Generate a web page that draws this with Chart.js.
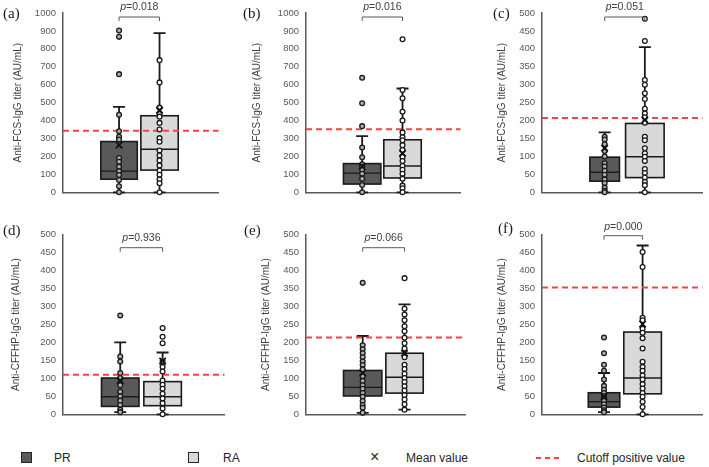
<!DOCTYPE html>
<html>
<head>
<meta charset="utf-8">
<script src="https://cdn.jsdelivr.net/npm/chart.js@4.4.1/dist/chart.umd.min.js"></script>
<style>
    body { margin: 0; background: #ffffff; }
    #wrap { position: relative; width: 709px; height: 467px; overflow: hidden; background: #ffffff; font-family: "Liberation Sans", Arial, sans-serif; }
    #wrap canvas { position: absolute; }
    .tag { position: absolute; font-family: "Liberation Serif", "Times New Roman", serif; font-size: 15px; line-height: 18px; color: #1a1a1a; }
    .legend-item { position: absolute; font-size: 12px; line-height: 14px; color: #262626; }
    .swatch { position: absolute; width: 11px; height: 11px; box-sizing: border-box; border: 1px solid #262626; }
    .dash { position: absolute; width: 5px; height: 2px; background: #ff4040; }
</style>
</head>
<body>
<div id="wrap">
    <div class="swatch" style="left:21px; top:452px; background:#595959;"></div>
    <div class="legend-item" style="left:54px; top:451px;">PR</div>
    <div class="swatch" style="left:188px; top:452px; background:#d9d9d9;"></div>
    <div class="legend-item" style="left:223px; top:451px;">RA</div>
    <div class="legend-item" style="left:370px; top:449px; font-size:16px; line-height:16px;">×</div>
    <div class="legend-item" style="left:406px; top:451px;">Mean value</div>
    <div class="dash" style="left:536px; top:457px;"></div>
    <div class="dash" style="left:545px; top:457px;"></div>
    <div class="dash" style="left:554px; top:457px;"></div>
    <div class="legend-item" style="left:577px; top:451px;">Cutoff positive value</div>
</div>
<script>
// panel texts
const panelTags = ["(a)", "(b)", "(c)", "(d)", "(e)", "(f)"];
const axisTitles = [
    "Anti-FCS-IgG titer (AU/mL)", "Anti-FCS-IgG titer (AU/mL)", "Anti-FCS-IgG titer (AU/mL)",
    "Anti-CFFHP-IgG titer (AU/mL)", "Anti-CFFHP-IgG titer (AU/mL)", "Anti-CFFHP-IgG titer (AU/mL)"
];
const pValues = ["0.018", "0.016", "0.051", "0.936", "0.066", "0.000"];

// y axes
const yMax = [1000, 1000, 500, 500, 500, 500];
const yStep = [100, 100, 50, 50, 50, 50];
const cutoffs = [343, 352, 207, 110, 214, 353];

// box stats: [lower whisker, q1, median, q3, upper whisker, mean]
const prStats = [
    [0, 73, 118, 283, 476, 263],
    [0, 46, 107, 160, 313, 143],
    [0, 31, 56, 98, 167, 123],
    [6, 22, 49, 101, 200, 94],
    [4, 51, 75, 122, 218, 115],
    [6, 20, 35, 60, 115, 50]
];
const raStats = [
    [0, 124, 240, 427, 888, 458],
    [0, 80, 147, 293, 579, 218],
    [0, 41, 99, 192, 405, 202],
    [0, 24, 49, 91, 172, 148],
    [13, 59, 103, 170, 306, 170],
    [0, 57, 101, 229, 470, 251]
];

// individual points
const prPoints = [
    [902, 867, 659, 432, 340, 310, 294, 191, 170, 143, 117, 96, 69, 34, 0],
    [639, 497, 369, 250, 195, 156, 144, 126, 103, 76, 41, 0],
    [155, 147, 134, 115, 100, 81, 72, 60, 49, 36, 25, 13, 4, 0],
    [275, 161, 147, 115, 101, 81, 63, 50, 38, 26, 13, 6],
    [366, 192, 181, 170, 159, 147, 137, 125, 106, 93, 81, 71, 59, 49, 37, 26, 18, 4],
    [214, 170, 138, 121, 97, 79, 68, 59, 51, 44, 37, 28, 19, 11, 6]
];
const raPoints = [
    [737, 613, 472, 437, 422, 387, 350, 302, 282, 233, 205, 178, 150, 121, 98, 71, 50, 0],
    [854, 570, 524, 449, 400, 334, 307, 290, 263, 236, 197, 174, 147, 126, 103, 76, 37, 23, 0],
    [484, 422, 313, 300, 276, 260, 233, 220, 209, 194, 155, 145, 123, 109, 99, 87, 65, 54, 41, 29, 20, 0],
    [240, 216, 198, 147, 132, 119, 94, 82, 71, 57, 44, 31, 16, 0],
    [379, 294, 278, 262, 245, 231, 213, 198, 183, 159, 138, 126, 113, 101, 90, 78, 66, 53, 41, 28, 13],
    [452, 410, 269, 262, 238, 227, 212, 183, 146, 132, 121, 108, 97, 84, 72, 59, 49, 35, 20, 0]
];

// where each panel sits on the page
const panelLayout = [
    { left: 0,   top: 0,   width: 225, padTop: 13, titlePad: 12, prX: 0.36,  raX: 0.62,  prHalf: 0.117, raHalf: 0.12,  textDy: -6, bracketDy: 4,  tagX: 3,   tagY: 4 },
    { left: 243, top: 0,   width: 224, padTop: 13, titlePad: 8,  prX: 0.363, raX: 0.624, prHalf: 0.121, raHalf: 0.121, textDy: -6, bracketDy: 4,  tagX: 243, tagY: 4 },
    { left: 479, top: 0,   width: 230, padTop: 13, titlePad: 17, prX: 0.39,  raX: 0.64,  prHalf: 0.092, raHalf: 0.12,  textDy: -6, bracketDy: 4,  tagX: 493, tagY: 4 },
    { left: 0,   top: 222, width: 231, padTop: 12, titlePad: 10, prX: 0.354, raX: 0.616, prHalf: 0.116, raHalf: 0.116, textDy: 3,  bracketDy: 13, tagX: 3,   tagY: 221 },
    { left: 243, top: 222, width: 229, padTop: 12, titlePad: 17, prX: 0.355, raX: 0.617, prHalf: 0.12,  raHalf: 0.117, textDy: 3,  bracketDy: 13, tagX: 244, tagY: 221 },
    { left: 479, top: 222, width: 230, padTop: 12, titlePad: 17, prX: 0.386, raX: 0.626, prHalf: 0.098, raHalf: 0.117, textDy: -8, bracketDy: 1,  tagX: 498, tagY: 219 }
];

const prFill = "#595959";
const raFill = "#d9d9d9";
const lineColor = "#1a1a1a";
const axisColor = "#595959";

Chart.defaults.font.family = "'Liberation Sans', Arial, sans-serif";

let wrap = document.getElementById("wrap");

function makeBoxPlugin(i) {
    let lay = panelLayout[i];
    let boxes = [
        { x: lay.prX, half: lay.prHalf, stats: prStats[i], color: prFill },
        { x: lay.raX, half: lay.raHalf, stats: raStats[i], color: raFill }
    ];

    return {
        id: "boxes" + i,
        beforeDatasetsDraw(chart) {
            const { ctx, scales: { x, y } } = chart;

            for(let b of boxes) {
                let cx = x.getPixelForValue(b.x);
                let left = x.getPixelForValue(b.x - b.half);
                let right = x.getPixelForValue(b.x + b.half);
                let lo = y.getPixelForValue(b.stats[0]);
                let q1 = y.getPixelForValue(b.stats[1]);
                let med = y.getPixelForValue(b.stats[2]);
                let q3 = y.getPixelForValue(b.stats[3]);
                let hi = y.getPixelForValue(b.stats[4]);

                ctx.save();
                ctx.strokeStyle = lineColor;
                ctx.lineWidth = 1.8;
                ctx.beginPath();
                ctx.moveTo(cx, q3);
                ctx.lineTo(cx, hi);
                ctx.moveTo(cx, q1);
                ctx.lineTo(cx, lo);
                ctx.moveTo(cx - 6, hi);
                ctx.lineTo(cx + 6, hi);
                ctx.moveTo(cx - 6, lo);
                ctx.lineTo(cx + 6, lo);
                ctx.stroke();

                ctx.fillStyle = b.color;
                ctx.fillRect(left, q3, right - left, q1 - q3);
                ctx.lineWidth = 1.6;
                ctx.strokeRect(left, q3, right - left, q1 - q3);

                ctx.lineWidth = 1.4;
                ctx.beginPath();
                ctx.moveTo(left, med);
                ctx.lineTo(right, med);
                ctx.stroke();
                ctx.restore();
            }
        },
        afterDraw(chart) {
            const { ctx, chartArea, scales: { x } } = chart;
            let x1 = x.getPixelForValue(lay.prX);
            let x2 = x.getPixelForValue(lay.raX);
            let by = chartArea.top + lay.bracketDy;

            ctx.save();
            ctx.strokeStyle = "#595959";
            ctx.lineWidth = 1;
            ctx.beginPath();
            ctx.moveTo(x1, by + 4);
            ctx.lineTo(x1, by);
            ctx.lineTo(x2, by);
            ctx.lineTo(x2, by + 4);
            ctx.stroke();

            // p value, italic p
            let ty = chartArea.top + lay.textDy;
            let mid = (x1 + x2) / 2;
            ctx.fillStyle = "#404040";
            ctx.textBaseline = "middle";
            ctx.font = "italic 10.5px 'Liberation Sans', Arial, sans-serif";
            let pw = ctx.measureText("p").width;
            ctx.font = "10.5px 'Liberation Sans', Arial, sans-serif";
            let rest = "=" + pValues[i];
            let rw = ctx.measureText(rest).width;
            let start = mid - (pw + rw) / 2;
            ctx.font = "italic 10.5px 'Liberation Sans', Arial, sans-serif";
            ctx.fillText("p", start, ty);
            ctx.font = "10.5px 'Liberation Sans', Arial, sans-serif";
            ctx.fillText(rest, start + pw, ty);
            ctx.restore();
        }
    };
}

function buildPanel(i) {
    let lay = panelLayout[i];

    let canvas = document.createElement("canvas");
    canvas.width = lay.width;
    canvas.height = 205;
    canvas.style.left = lay.left + "px";
    canvas.style.top = lay.top + "px";
    wrap.append(canvas);

    let tag = document.createElement("div");
    tag.className = "tag";
    tag.style.left = lay.tagX + "px";
    tag.style.top = lay.tagY + "px";
    tag.textContent = panelTags[i];
    wrap.append(tag);

    new Chart(canvas, {
        type: "scatter",
        data: {
            datasets: [
                {
                    label: "Mean value",
                    data: [{ x: lay.prX, y: prStats[i][5] }, { x: lay.raX, y: raStats[i][5] }],
                    pointStyle: "crossRot",
                    pointRadius: 4.5,
                    borderColor: "#111111",
                    borderWidth: 1.8,
                    clip: false,
                    order: 0,
                },
                {
                    label: "PR",
                    data: prPoints[i].map(v => ({ x: lay.prX, y: v })),
                    pointRadius: 2.4,
                    backgroundColor: "#b0b0b0",
                    borderColor: "#1a1a1a",
                    borderWidth: 1.3,
                    clip: false,
                    order: 1,
                },
                {
                    label: "RA",
                    data: raPoints[i].map(v => ({ x: lay.raX, y: v })),
                    pointRadius: 2.4,
                    backgroundColor: "#ffffff",
                    borderColor: "#1a1a1a",
                    borderWidth: 1.3,
                    clip: false,
                    order: 1,
                },
                {
                    label: "Cutoff positive value",
                    type: "line",
                    data: [{ x: 0, y: cutoffs[i] }, { x: 1, y: cutoffs[i] }],
                    borderColor: "#ff4040",
                    borderWidth: 2,
                    borderDash: [6, 4],
                    pointRadius: 0,
                    order: 3,
                },
            ],
        },
        options: {
            responsive: false,
            animation: false,
            events: [],
            layout: {
                padding: { top: lay.padTop, right: 4, bottom: 4, left: 0 },
            },
            plugins: {
                legend: { display: false },
                tooltip: { enabled: false },
            },
            scales: {
                x: {
                    type: "linear",
                    min: 0,
                    max: 1,
                    ticks: { display: false },
                    grid: { display: false, drawTicks: false },
                    border: { color: axisColor, width: 1.5 },
                    afterFit(scale) { scale.height = 0; },
                },
                y: {
                    min: 0,
                    max: yMax[i],
                    ticks: {
                        stepSize: yStep[i],
                        color: axisColor,
                        padding: 7,
                        font: { size: 9.5 },
                        callback: value => String(value),
                    },
                    grid: { display: false, drawTicks: false },
                    border: { color: axisColor, width: 1.5 },
                    title: {
                        display: true,
                        text: axisTitles[i],
                        color: "#404040",
                        font: { size: 10 },
                        padding: { top: lay.titlePad, bottom: 0 },
                    },
                    afterFit(scale) { scale.width = 63; },
                },
            },
        },
        plugins: [makeBoxPlugin(i)],
    });
}

for(let i = 0; i < panelTags.length; i++) {
    buildPanel(i);
}
</script>
</body>
</html>
